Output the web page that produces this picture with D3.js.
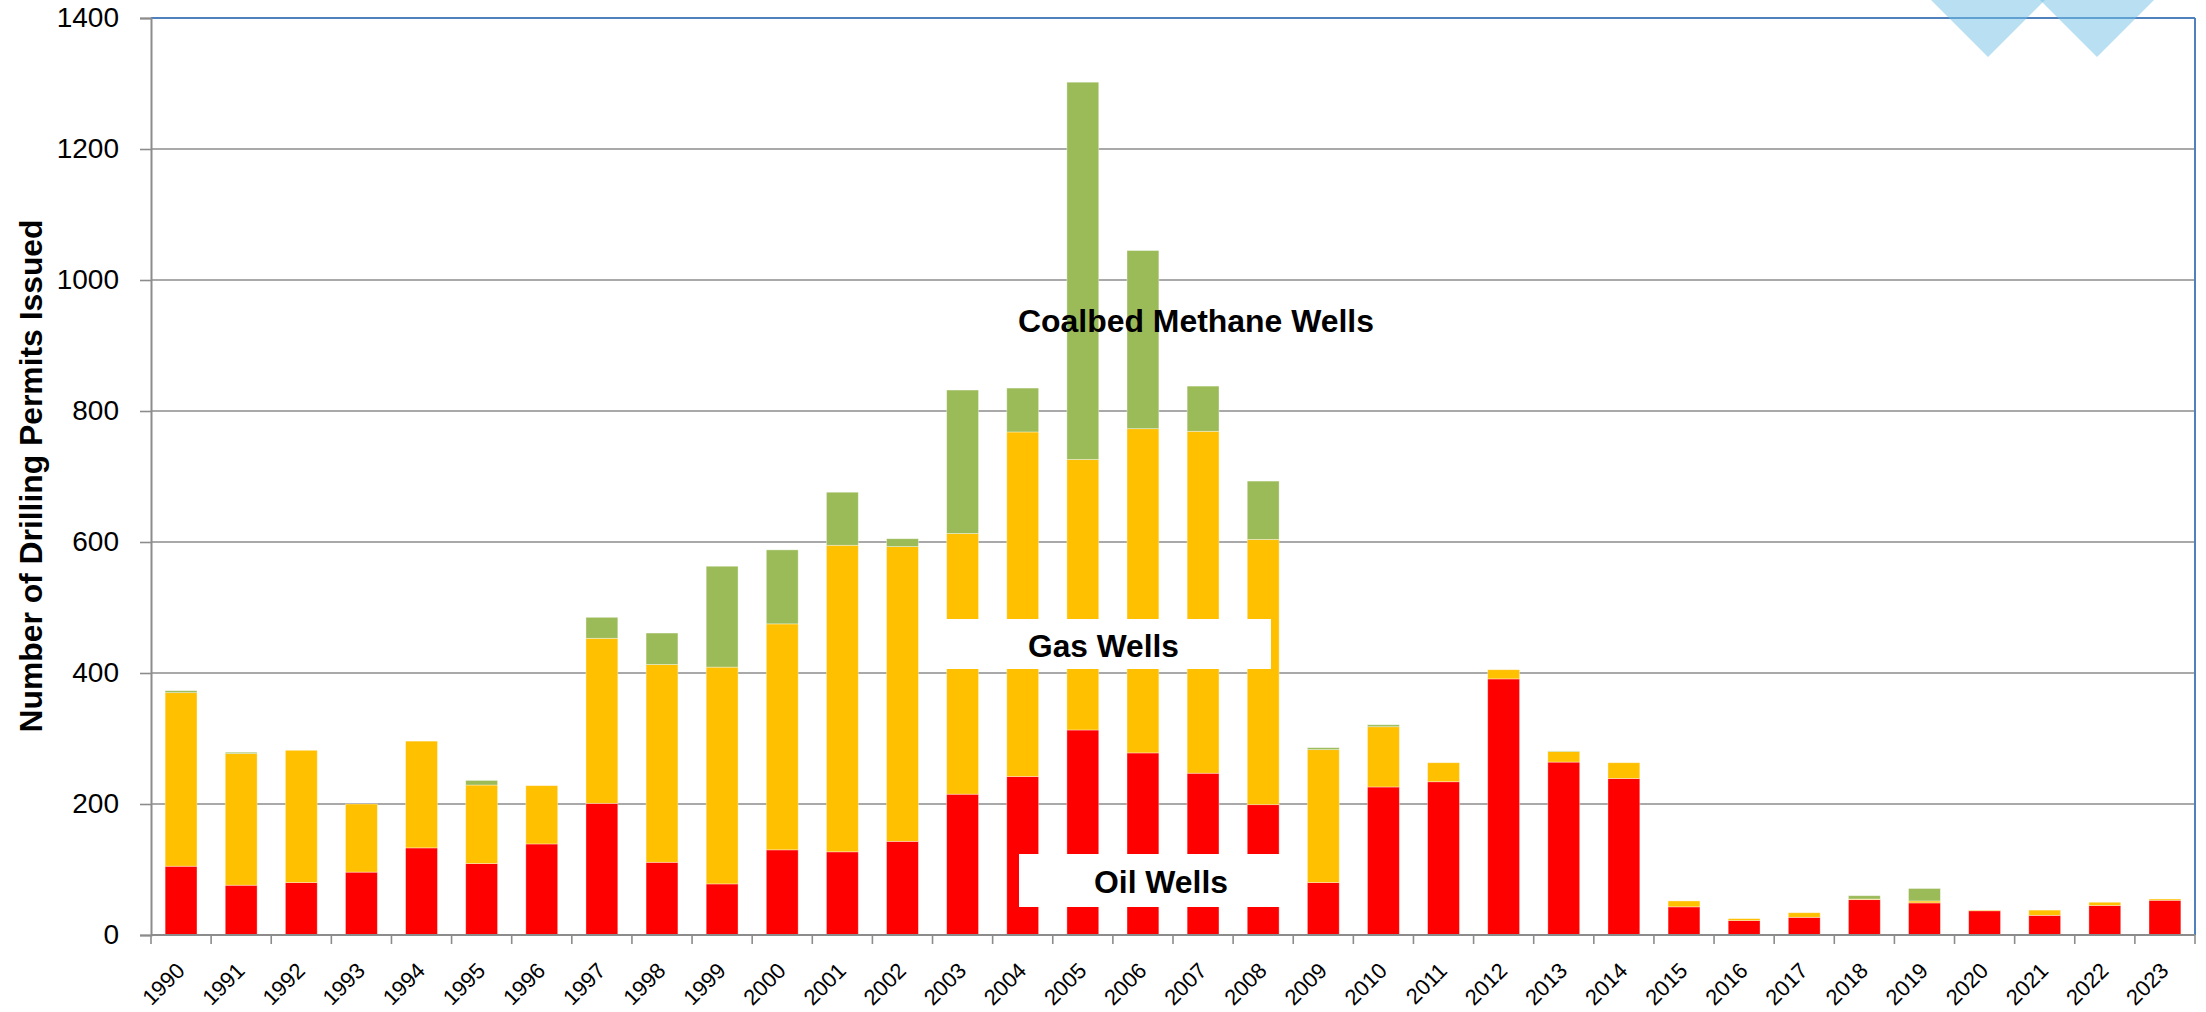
<!DOCTYPE html>
<html>
<head>
<meta charset="utf-8">
<script src="https://cdn.jsdelivr.net/npm/d3@7"></script>
<style>
  html, body { margin: 0; padding: 0; background: #fff; }
  svg { display: block; }
</style>
</head>
<body>
<script>
// ---- Data ----
const years = [1990,1991,1992,1993,1994,1995,1996,1997,1998,1999,2000,2001,2002,2003,2004,2005,2006,2007,2008,2009,2010,2011,2012,2013,2014,2015,2016,2017,2018,2019,2020,2021,2022,2023];
const oilWells = [105,76,80,96,133,109,139,201,111,78,130,127,143,215,242,313,278,247,199,80,226,234,391,264,239,43,22,27,54,49,37,30,45,53];
const gasWells = [265,201,202,104,163,120,89,252,302,331,345,468,450,398,526,413,495,522,405,203,92,29,14,16,24,9,3,7,1,3,1,8,5,2];
const coalbedWells = [3,2,0,0,0,7,0,32,48,154,113,81,12,219,67,576,272,69,89,3,3,0,0,1,0,0,0,0,5,19,0,0,0,0];
const yTicks = [0,200,400,600,800,1000,1200,1400];
const seriesKeys = ["oil","gas","coal"];
const seriesColors = ["#ff0000","#ffc000","#9bbb59"];
const yTitle = "Number of Drilling Permits Issued";

const W = 2206, H = 1012;
const margin = {left: 151, top: 18, right: 11, bottom: 77};
const plotW = W - margin.left - margin.right;
const plotH = H - margin.top - margin.bottom;

const svg = d3.select("body").append("svg").attr("width", W).attr("height", H);

const x = d3.scaleBand().domain(years).range([margin.left, margin.left + plotW])
  .paddingInner(0.47).paddingOuter(0.235);
const y = d3.scaleLinear().domain([0, 1400]).range([margin.top + plotH, margin.top]);

// gridlines
svg.append("g").selectAll("line").data(yTicks.filter(d => d > 0 && d < 1400)).join("line")
  .attr("x1", margin.left).attr("x2", margin.left + plotW)
  .attr("y1", d => y(d)).attr("y2", d => y(d))
  .attr("stroke", "#8c8c8c").attr("stroke-width", 1.6);

// stacked bars
const table = years.map((yr, i) => ({year: yr, oil: oilWells[i], gas: gasWells[i], coal: coalbedWells[i]}));
const stack = d3.stack().keys(seriesKeys)(table);
svg.append("g").selectAll("g").data(stack).join("g")
  .attr("fill", (d, i) => seriesColors[i])
  .selectAll("rect").data(d => d).join("rect")
  .attr("x", d => x(d.data.year))
  .attr("width", x.bandwidth())
  .attr("y", d => y(d[1]))
  .attr("height", d => Math.max(0, y(d[0]) - y(d[1])))
  .attr("stroke", "#ffffff").attr("stroke-opacity", 0.45).attr("stroke-width", 0.8);

// plot border (top & right blue)
svg.append("line").attr("x1", margin.left).attr("x2", margin.left + plotW)
  .attr("y1", margin.top).attr("y2", margin.top).attr("stroke", "#4f81bd").attr("stroke-width", 2);
svg.append("line").attr("x1", margin.left + plotW).attr("x2", margin.left + plotW)
  .attr("y1", margin.top).attr("y2", margin.top + plotH).attr("stroke", "#4f81bd").attr("stroke-width", 2);

// y axis
const yAxis = svg.append("g").attr("transform", `translate(${margin.left},0)`)
  .call(d3.axisLeft(y).tickValues(yTicks).tickSize(11).tickPadding(21).tickFormat(d3.format("d")));
yAxis.select(".domain").attr("stroke", "#8c8c8c").attr("stroke-width", 2);
yAxis.selectAll(".tick line").attr("stroke", "#8c8c8c").attr("stroke-width", 1.6);
yAxis.selectAll(".tick text").attr("font-family", "'Liberation Sans', Arial, sans-serif")
  .attr("font-size", 28).attr("fill", "#000");

// x axis line
const x0 = margin.left, x1 = margin.left + plotW, yBase = y(0);
svg.append("line").attr("x1", x0).attr("x2", x1).attr("y1", yBase).attr("y2", yBase)
  .attr("stroke", "#8c8c8c").attr("stroke-width", 2);
// x ticks at band boundaries
const step = x.step();
svg.append("g").selectAll("line").data(d3.range(years.length + 1)).join("line")
  .attr("x1", i => x0 + i * step).attr("x2", i => x0 + i * step)
  .attr("y1", yBase).attr("y2", yBase + 9)
  .attr("stroke", "#8c8c8c").attr("stroke-width", 1.6);
// x labels
svg.append("g").selectAll("text").data(years).join("text")
  .attr("transform", d => `translate(${x(d) + x.bandwidth() / 2 + 5},${yBase + 37}) rotate(-45)`)
  .attr("text-anchor", "end")
  .attr("font-family", "'Liberation Sans', Arial, sans-serif")
  .attr("font-size", 22).attr("fill", "#000")
  .text(d => d);

// y title
svg.append("text")
  .attr("transform", `translate(42,476) rotate(-90)`)
  .attr("text-anchor", "middle")
  .attr("font-family", "'Liberation Sans', Arial, sans-serif")
  .attr("font-weight", "bold").attr("font-size", 32)
  .attr("textLength", 513).attr("lengthAdjust", "spacingAndGlyphs")
  .text(yTitle);

// annotation boxes & labels
svg.append("rect").attr("x", 940).attr("y", 619).attr("width", 331).attr("height", 50).attr("fill", "#fff");
svg.append("rect").attr("x", 1019).attr("y", 854).attr("width", 266).attr("height", 53).attr("fill", "#fff");

const annots = [
  {t: "Coalbed Methane Wells", x: 1018, y: 332, len: 356},
  {t: "Gas Wells", x: 1028, y: 657, len: 151},
  {t: "Oil Wells", x: 1094, y: 893, len: 134}
];
svg.append("g").selectAll("text").data(annots).join("text")
  .attr("x", d => d.x).attr("y", d => d.y)
  .attr("font-family", "'Liberation Sans', Arial, sans-serif")
  .attr("font-weight", "bold").attr("font-size", 31).attr("fill", "#000")
  .attr("textLength", d => d.len).attr("lengthAdjust", "spacingAndGlyphs")
  .text(d => d.t);

// decorative triangles (top right)
const tri = [[1988, 57], [2097, 57]];
svg.append("g").selectAll("path").data(tri).join("path")
  .attr("d", d => `M${d[0] - 80},${d[1] - 80} L${d[0]},${d[1]} L${d[0] + 80},${d[1] - 80} Z`)
  .attr("fill", "rgb(113,193,229)").attr("fill-opacity", 0.5);
</script>
</body>
</html>
